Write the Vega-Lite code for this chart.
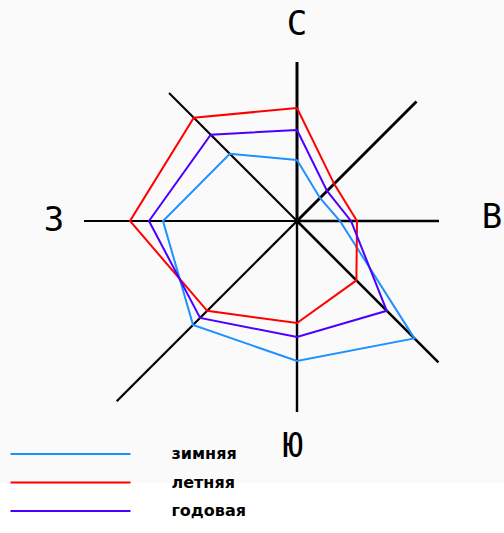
{
  "$schema": "https://vega.github.io/schema/vega-lite/v6.json",
  "width": 504,
  "height": 533,
  "autosize": {"type": "fit", "contains": "padding"},
  "padding": 0,
  "background": "#fafafa",
  "config": {"view": {"stroke": null}},
  "datasets": {
    "spokes": [
      {"dir": "С", "angle": 0, "len": 0},
      {"dir": "С", "angle": 0, "len": 159},
      {"dir": "СВ", "angle": 45, "len": 0},
      {"dir": "СВ", "angle": 45, "len": 169},
      {"dir": "В", "angle": 90, "len": 0},
      {"dir": "В", "angle": 90, "len": 142},
      {"dir": "ЮВ", "angle": 135, "len": 0},
      {"dir": "ЮВ", "angle": 135, "len": 200},
      {"dir": "Ю", "angle": 180, "len": 0},
      {"dir": "Ю", "angle": 180, "len": 191},
      {"dir": "ЮЗ", "angle": 225, "len": 0},
      {"dir": "ЮЗ", "angle": 225, "len": 255},
      {"dir": "З", "angle": 270, "len": 0},
      {"dir": "З", "angle": 270, "len": 213},
      {"dir": "СЗ", "angle": 315, "len": 0},
      {"dir": "СЗ", "angle": 315, "len": 181}
    ],
    "rose": [
      {"season": "зимняя", "dir": "С", "angle": 0, "ord": 0, "value": 61},
      {"season": "зимняя", "dir": "СВ", "angle": 45, "ord": 1, "value": 32.5},
      {"season": "зимняя", "dir": "В", "angle": 90, "ord": 2, "value": 43},
      {"season": "зимняя", "dir": "ЮВ", "angle": 135, "ord": 3, "value": 166},
      {"season": "зимняя", "dir": "Ю", "angle": 180, "ord": 4, "value": 140},
      {"season": "зимняя", "dir": "ЮЗ", "angle": 225, "ord": 5, "value": 147},
      {"season": "зимняя", "dir": "З", "angle": 270, "ord": 6, "value": 134},
      {"season": "зимняя", "dir": "СЗ", "angle": 315, "ord": 7, "value": 95},
      {"season": "зимняя", "dir": "С", "angle": 360, "ord": 8, "value": 61},
      {"season": "летняя", "dir": "С", "angle": 0, "ord": 0, "value": 113},
      {"season": "летняя", "dir": "СВ", "angle": 45, "ord": 1, "value": 52.5},
      {"season": "летняя", "dir": "В", "angle": 90, "ord": 2, "value": 60},
      {"season": "летняя", "dir": "ЮВ", "angle": 135, "ord": 3, "value": 84},
      {"season": "летняя", "dir": "Ю", "angle": 180, "ord": 4, "value": 102},
      {"season": "летняя", "dir": "ЮЗ", "angle": 225, "ord": 5, "value": 127},
      {"season": "летняя", "dir": "З", "angle": 270, "ord": 6, "value": 167},
      {"season": "летняя", "dir": "СЗ", "angle": 315, "ord": 7, "value": 146},
      {"season": "летняя", "dir": "С", "angle": 360, "ord": 8, "value": 113},
      {"season": "годовая", "dir": "С", "angle": 0, "ord": 0, "value": 91},
      {"season": "годовая", "dir": "СВ", "angle": 45, "ord": 1, "value": 42.5},
      {"season": "годовая", "dir": "В", "angle": 90, "ord": 2, "value": 54},
      {"season": "годовая", "dir": "ЮВ", "angle": 135, "ord": 3, "value": 127},
      {"season": "годовая", "dir": "Ю", "angle": 180, "ord": 4, "value": 116},
      {"season": "годовая", "dir": "ЮЗ", "angle": 225, "ord": 5, "value": 137},
      {"season": "годовая", "dir": "З", "angle": 270, "ord": 6, "value": 148},
      {"season": "годовая", "dir": "СЗ", "angle": 315, "ord": 7, "value": 122},
      {"season": "годовая", "dir": "С", "angle": 360, "ord": 8, "value": 91}
    ],
    "labels": [
      {"label": "С", "angle": 0, "r": 196},
      {"label": "В", "angle": 89, "r": 195},
      {"label": "Ю", "angle": 181, "r": 226},
      {"label": "З", "angle": 270, "r": 243}
    ]
  },
  "layer": [
    {
      "data": {"values": [{"band": "footer"}]},
      "mark": {"type": "rect", "fill": "#ffffff"},
      "encoding": {
        "x": {"datum": -297, "type": "quantitative", "scale": {"domain": [-297, 207], "nice": false, "zero": false}, "axis": null},
        "x2": {"datum": 207},
        "y": {"datum": -262, "type": "quantitative", "scale": {"domain": [-312, 221], "nice": false, "zero": false}, "axis": null},
        "y2": {"datum": -312}
      }
    },
    {
      "data": {"name": "spokes"},
      "transform": [
        {"calculate": "datum.len * sin(datum.angle * PI / 180)", "as": "ex"},
        {"calculate": "datum.len * cos(datum.angle * PI / 180)", "as": "ey"}
      ],
      "mark": {"type": "line", "color": "#000000"},
      "encoding": {
        "x": {"field": "ex", "type": "quantitative"},
        "y": {"field": "ey", "type": "quantitative"},
        "detail": {"field": "dir", "type": "nominal"},
        "order": {"field": "len", "type": "quantitative"},
        "strokeWidth": {
          "field": "dir",
          "type": "nominal",
          "scale": {"domain": ["С", "СВ", "В", "ЮВ", "Ю", "ЮЗ", "З", "СЗ"], "range": [3, 2, 2, 2, 3, 2, 2, 2]},
          "legend": null
        }
      }
    },
    {
      "data": {"name": "rose"},
      "transform": [
        {"calculate": "datum.value * sin(datum.angle * PI / 180)", "as": "px"},
        {"calculate": "datum.value * cos(datum.angle * PI / 180)", "as": "py"}
      ],
      "mark": {"type": "line", "strokeJoin": "miter", "strokeWidth": 2},
      "encoding": {
        "x": {"field": "px", "type": "quantitative"},
        "y": {"field": "py", "type": "quantitative"},
        "order": {"field": "ord", "type": "quantitative"},
        "color": {
          "field": "season",
          "type": "nominal",
          "scale": {"domain": ["зимняя", "летняя", "годовая"], "range": ["#1e90ff", "#ff0000", "#4b00ff"]},
          "legend": {
            "title": null,
            "orient": "none",
            "legendX": 59.5,
            "legendY": 443,
            "padding": 0,
            "symbolType": "M-6,0H6",
            "symbolSize": 400,
            "symbolStrokeWidth": 2,
            "labelOffset": 90,
            "rowPadding": 9.5,
            "labelFont": "DejaVu Sans",
            "labelFontWeight": "bold",
            "labelFontSize": 16,
            "labelColor": "#000000"
          }
        }
      }
    },
    {
      "data": {"name": "labels"},
      "transform": [
        {"calculate": "datum.r * sin(datum.angle * PI / 180)", "as": "lx"},
        {"calculate": "datum.r * cos(datum.angle * PI / 180)", "as": "ly"}
      ],
      "mark": {"type": "text", "font": "DejaVu Sans Mono", "fontSize": 34, "align": "center", "baseline": "middle", "color": "#000000"},
      "encoding": {
        "x": {"field": "lx", "type": "quantitative"},
        "y": {"field": "ly", "type": "quantitative"},
        "text": {"field": "label"}
      }
    }
  ]
}
